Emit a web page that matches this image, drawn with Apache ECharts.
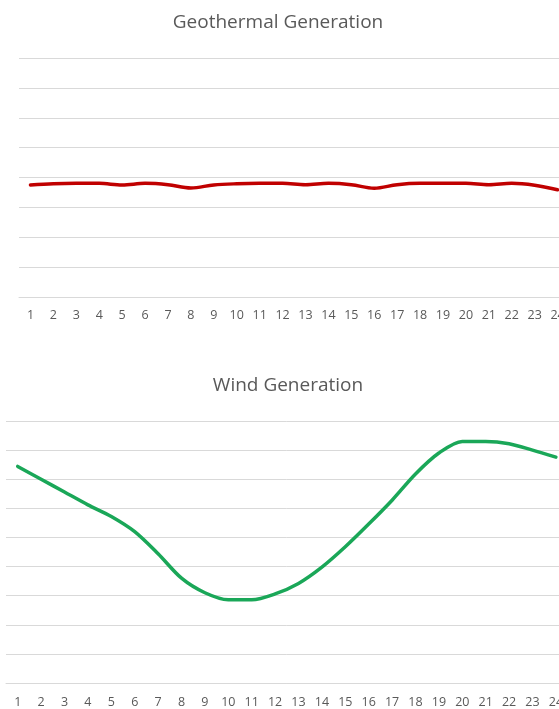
<!DOCTYPE html>
<html>
<head>
<meta charset="utf-8">
<title>Generation by Hour</title>
<script src="https://cdn.jsdelivr.net/npm/echarts@6/dist/echarts.min.js"></script>
<style>
  html, body { margin: 0; padding: 0; background: #ffffff; overflow: hidden; }
  /* The plot runs past the right edge of the window, so the last hour is cut off */
  #chart { width: 600px; height: 709px; }
</style>
</head>
<body>
<div id="chart"></div>
<script>
// Hours of the day (trading periods 1..24)
const hours = ['1','2','3','4','5','6','7','8','9','10','11','12','13','14','15','16','17','18','19','20','21','22','23','24'];

// Geothermal output per hour (MW)
const geothermal = [750, 758, 761, 761, 750, 761, 752, 730, 750, 758, 761, 761,
                    752, 761, 752, 728, 752, 761, 761, 761, 752, 761, 748, 718];

// Wind output per hour (MW)
const wind = [372, 350, 328, 306, 286, 260, 222, 180, 155, 143, 143, 153,
              171, 199, 234, 273, 314, 359, 395, 415, 415, 411, 400, 388];

// Titles
const geoTitle = 'Geothermal Generation';
const windTitle = 'Wind Generation';

const gridColor = '#d9d9d9';
const textColor = '#595959';
const fontFamily = '"Open Sans", "Noto Sans", sans-serif';

const chart = echarts.init(document.getElementById('chart'), null, { renderer: 'canvas' });

function xAxisFor(gridIndex, margin) {
  return {
    type: 'category',
    gridIndex: gridIndex,
    data: hours,
    boundaryGap: true,
    axisLine: { show: true, lineStyle: { color: gridColor, width: 1 } },
    axisTick: { show: false },
    axisLabel: { color: textColor, fontSize: 12.5, fontFamily: fontFamily, margin: margin, interval: 0 },
    splitLine: { show: false }
  };
}

function yAxisFor(gridIndex, max, interval) {
  return {
    type: 'value',
    gridIndex: gridIndex,
    min: 0,
    max: max,
    interval: interval,
    axisLine: { show: false },
    axisTick: { show: false },
    axisLabel: { show: false },
    splitLine: { show: true, lineStyle: { color: gridColor, width: 1 } }
  };
}

chart.setOption({
  animation: false,
  backgroundColor: '#ffffff',
  graphic: [
    {
      type: 'text', x: 278, y: 22.5,
      style: { text: geoTitle, align: 'center', verticalAlign: 'middle',
               font: '19px ' + fontFamily, fill: textColor }
    },
    {
      type: 'text', x: 288, y: 386,
      style: { text: windTitle, align: 'center', verticalAlign: 'middle',
               font: '19px ' + fontFamily, fill: textColor }
    }
  ],
  grid: [
    { left: 19, top: 58, width: 550, height: 239 },
    { left: 6, top: 421, width: 561.6, height: 262 }
  ],
  xAxis: [xAxisFor(0, 12), xAxisFor(1, 13)],
  yAxis: [yAxisFor(0, 1600, 200), yAxisFor(1, 450, 50)],
  series: [
    {
      name: geoTitle,
      type: 'line',
      xAxisIndex: 0, yAxisIndex: 0,
      data: geothermal,
      smooth: 0.35,
      symbol: 'none',
      lineStyle: { color: '#c00000', width: 3.5, cap: 'round' }
    },
    {
      name: windTitle,
      type: 'line',
      xAxisIndex: 1, yAxisIndex: 1,
      data: wind,
      smooth: 0.3,
      symbol: 'none',
      lineStyle: { color: '#1aa758', width: 3.5, cap: 'round' }
    }
  ]
});
</script>
</body>
</html>
